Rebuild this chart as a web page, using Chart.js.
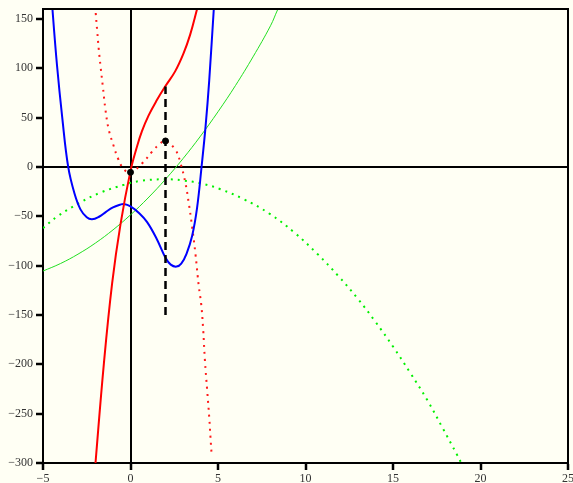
<!DOCTYPE html>
<html>
<head>
<meta charset="utf-8">
<script src="https://cdn.jsdelivr.net/npm/chart.js@4.4.1/dist/chart.umd.min.js"></script>
<style>
  html, body { margin: 0; padding: 0; background: #fffff4; }
</style>
</head>
<body>
<canvas id="plot" width="573" height="483"></canvas>
<script>
// tick labels
const xTicks = [-5, 0, 5, 10, 15, 20, 25];
const yTicks = [-300, -250, -200, -150, -100, -50, 0, 50, 100, 150];

// blue solid curve
const blueX = [-4.55, -4.46, -4.2, -3.9, -3.56, -3.2, -2.86, -2.5, -2.2, -1.8, -1.4, -1.0, -0.6, -0.38, 0, 0.5, 0.95, 1.5, 2, 2.3, 2.63, 2.9, 3.2, 3.52, 3.8, 4.06, 4.29, 4.5, 4.76, 4.85];
const blueY = [185, 160, 103, 50, 0, -27, -43, -51, -53, -50.5, -45.5, -41, -38.3, -37.5, -40, -47, -56, -73, -92, -99, -101, -98, -88, -70, -42, 0, 41, 88, 160, 182];

// red solid curve
const redX = [-2.05, -2, -1.52, -1.05, -0.57, 0, 0.36, 0.65, 1.03, 1.5, 1.98, 2.55, 3.03, 3.41, 3.79, 3.9];
const redY = [-312, -300, -199, -118, -58, -4, 20, 36, 52, 67.5, 81.4, 96.8, 115, 134, 159, 167];

// red dotted curve
const redDotX = [-2.02, -1.9, -1.81, -1.71, -1.58, -1.43, -1.24, -0.95, -0.72, -0.38, 0, 0.67, 1.24, 1.71, 2, 2.57, 2.86, 3.14, 3.33, 3.52, 3.71, 3.9, 4.04, 4.15, 4.25, 4.38, 4.5, 4.57, 4.63];
const redDotY = [163, 137, 118.5, 101.6, 81.4, 57.8, 37.5, 20.6, 8.8, -2.4, -5.5, 3.7, 15.5, 24, 26.3, 17.2, 3.7, -16.5, -36.8, -60.5, -88, -120.6, -139, -164, -195.5, -226, -254, -274, -290];

// green solid curve
const greenX = [-5, -4, -3, -2, -1, 0, 1, 2, 3, 4, 5, 6, 7, 8, 8.4, 8.7];
const greenY = [-105.5, -97.9, -88.4, -77.1, -63.8, -48.6, -31.5, -12.5, 8.4, 31.2, 55.9, 82.5, 111.5, 143, 159, 170];

// green dotted curve
const greenDotX = [-5, -4.19, -2.95, -1.71, -0.38, 0.57, 1.9, 3, 4.15, 5.14, 6.44, 7.96, 9.37, 10.67, 11.87, 13.01, 14, 15, 16, 16.95, 17.85, 18.67, 18.9];
const greenDotY = [-62, -50.3, -36.8, -26, -18.2, -14.2, -12.5, -13.7, -17.2, -22.6, -32.4, -47.6, -66.6, -88, -110.4, -134, -157, -182, -209, -236, -265, -292, -300];

// dashed vertical segment and the two marked points
const dashX = [2, 2];
const dashY = [-150, 81.4];
const markX = [0, 2];
const markY = [-5.5, 26.3];

const pts = (xs, ys) => xs.map((x, i) => ({ x: x, y: ys[i] }));

function curve(xs, ys, color, width, dash) {
  return {
    data: pts(xs, ys),
    borderColor: color,
    borderWidth: width,
    borderDash: dash || [],
    pointRadius: 0,
    showLine: true,
    fill: false,
    tension: 0.4
  };
}

const bg = '#fffff4';

const framePlugin = {
  id: 'frame',
  beforeDraw(chart) {
    const c = chart.ctx;
    c.save();
    c.fillStyle = bg;
    c.fillRect(0, 0, chart.width, chart.height);
    c.restore();
  },
  afterDraw(chart) {
    const a = chart.chartArea;
    const c = chart.ctx;
    c.save();
    c.strokeStyle = '#000';
    c.lineWidth = 2;
    c.beginPath();
    c.moveTo(a.left, a.top);
    c.lineTo(a.right, a.top);
    c.lineTo(a.right, a.bottom);
    c.stroke();
    c.restore();
  }
};

const minus = v => (v < 0 ? '\u2212' + Math.abs(v) : '' + v);
const zeroLine = ctx => (ctx.tick && ctx.tick.value === 0 ? '#000' : 'rgba(0,0,0,0)');
const font = { family: '"Liberation Serif", "DejaVu Serif", serif', size: 12 };

// first in the list is drawn on top
new Chart(document.getElementById('plot'), {
  type: 'scatter',
  data: {
    datasets: [
      {
        data: pts(markX, markY),
        backgroundColor: '#000',
        borderColor: '#000',
        pointRadius: 3,
        showLine: false
      },
      {
        data: pts(dashX, dashY),
        borderColor: '#000',
        borderWidth: 2.5,
        borderDash: [8, 5],
        pointRadius: 0,
        showLine: true
      },
      curve(redX, redY, '#ff0000', 2),
      curve(blueX, blueY, '#0000ff', 2),
      curve(redDotX, redDotY, '#ff1a1a', 2, [2, 5]),
      curve(greenDotX, greenDotY, '#00f000', 2, [2, 5]),
      curve(greenX, greenY, '#22e022', 1)
    ]
  },
  options: {
    responsive: false,
    animation: false,
    layout: { padding: { top: 9, right: 5, left: 0, bottom: 0 } },
    plugins: { legend: { display: false }, tooltip: { enabled: false } },
    scales: {
      x: {
        type: 'linear',
        min: -5,
        max: 25,
        afterBuildTicks: s => { s.ticks = xTicks.map(v => ({ value: v })); },
        afterFit: s => { s.height = 20; s.paddingLeft = 0; s.paddingRight = 0; },
        ticks: { color: '#333', font: font, padding: 2, maxRotation: 0, callback: minus },
        grid: { color: zeroLine, lineWidth: 2, tickColor: '#000', tickLength: 7, tickWidth: 2.5 },
        border: { display: true, color: '#000', width: 2 }
      },
      y: {
        type: 'linear',
        min: -300,
        max: 160,
        afterBuildTicks: s => { s.ticks = yTicks.map(v => ({ value: v })); },
        afterFit: s => { s.width = 43; s.paddingTop = 0; s.paddingBottom = 0; },
        ticks: { color: '#333', font: font, padding: 3, callback: minus },
        grid: { color: zeroLine, lineWidth: 2, tickColor: '#000', tickLength: 7, tickWidth: 2.5 },
        border: { display: true, color: '#000', width: 2 }
      }
    }
  },
  plugins: [framePlugin]
});
</script>
</body>
</html>
